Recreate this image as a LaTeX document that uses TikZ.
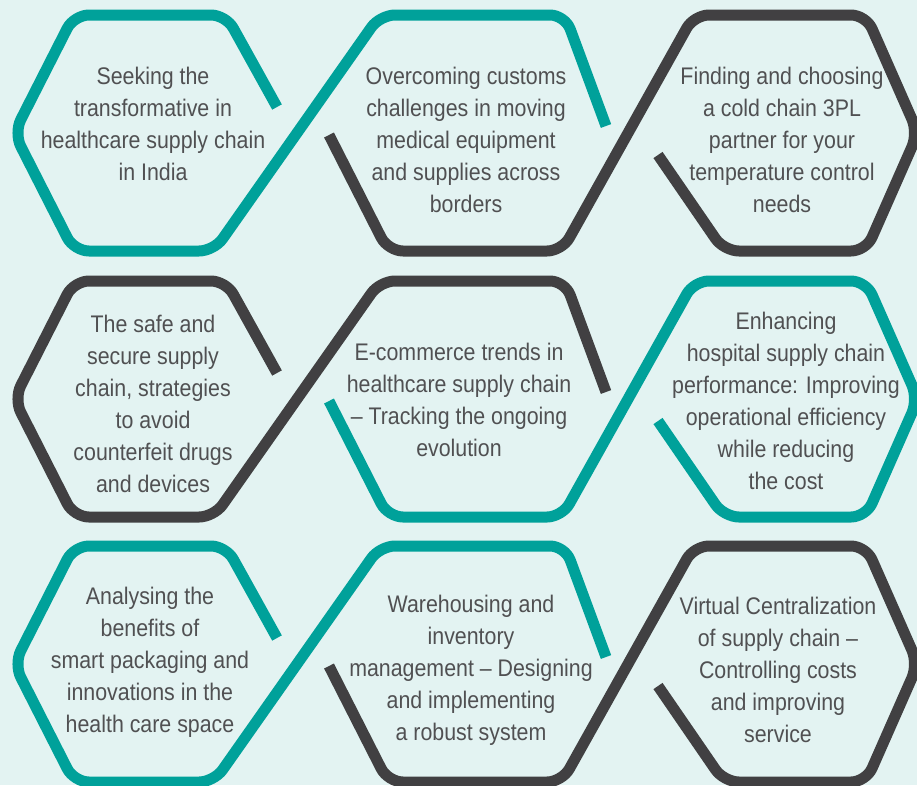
\documentclass[tikz,border=0pt]{standalone}
\usepackage{fontspec}
\setmainfont{Liberation Sans}[FakeStretch=0.89]
\definecolor{bgmint}{HTML}{E3F3F2}
\definecolor{tealc}{HTML}{00A19A}
\definecolor{grayc}{HTML}{414042}
\definecolor{txtc}{HTML}{505052}
\tikzset{
  hexline/.style={line width=11pt, rounded corners=15pt, line cap=butt, line join=round},
  lbl/.style={align=center, text=txtc, inner sep=0pt, font=\fontsize{24}{32}\selectfont}
}
\begin{document}
\begin{tikzpicture}[x=1pt,y=-1pt]
\useasboundingbox (0,0) rectangle (917,785);
\fill[bgmint] (0,0) rectangle (917,785);
\begin{scope}
\clip (0,0) rectangle (917,785);
\foreach \T/\ca/\cb in {15/tealc/grayc, 281/grayc/tealc, 546/tealc/grayc}{
  \draw[hexline, draw=\ca] (277,\T+92) -- (226,\T) -- (74,\T) -- (14,\T+118) -- (74,\T+236)
     -- (214,\T+236) -- (380,\T) -- (565,\T) -- (606,\T+111);
  \draw[hexline, draw=\cb] (329,\T+120) -- (388,\T+236) -- (562,\T+236) -- (694,\T)
     -- (866,\T) -- (918,\T+118) -- (866,\T+236) -- (724,\T+236) -- (658,\T+140);
}
\end{scope}
\node[lbl] (t11) at (153,124) {Seeking the\\transformative in\\healthcare supply chain\\in India};
\node[lbl] (t12) at (466,140) {Overcoming customs\\challenges in moving\\medical equipment\\and supplies across\\borders};
\node[lbl] (t13) at (782,140) {Finding and choosing\\a cold chain 3PL\\partner for your\\temperature control\\needs};
\node[lbl] (t21) at (153,404) {The safe and\\secure supply\\chain, strategies\\to avoid\\counterfeit drugs\\and devices};
\node[lbl] (t22) at (459,400) {E-commerce trends in\\healthcare supply chain\\-- Tracking the ongoing\\evolution};
\node[lbl] (t23) at (786,401) {Enhancing\\hospital supply chain\\performance: Improving\\operational efficiency\\while reducing\\the cost};
\node[lbl] (t31) at (150,662) {Analysing the\\benefits of\\smart packaging and\\innovations in the\\health care space};
\node[lbl] (t32) at (471,670) {Warehousing and\\inventory\\management -- Designing\\and implementing\\a robust system};
\node[lbl] (t33) at (778,670) {Virtual Centralization\\of supply chain --\\Controlling costs\\and improving\\service};
\end{tikzpicture}
\end{document}
